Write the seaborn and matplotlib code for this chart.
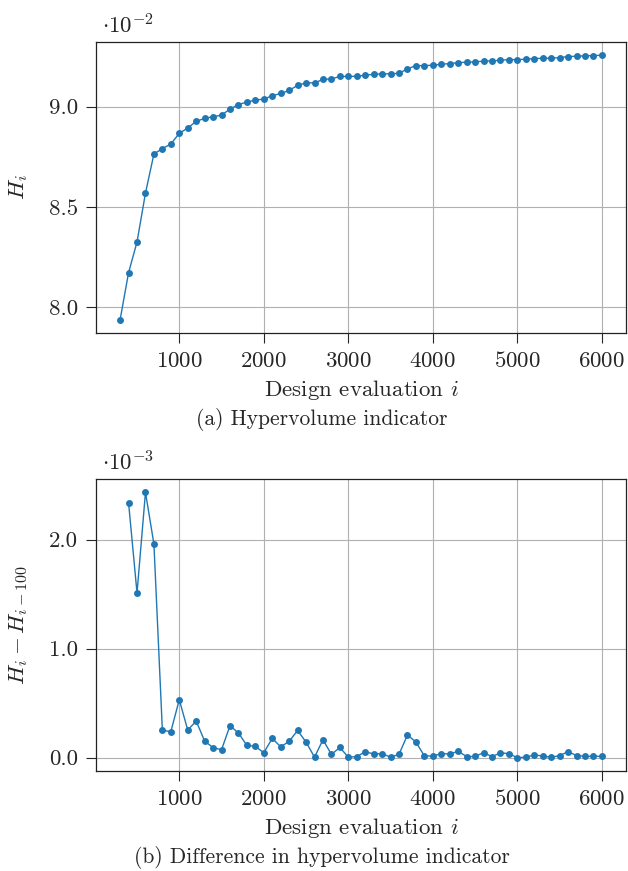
import numpy as np
import pandas as pd
import matplotlib
matplotlib.use("Agg")
import matplotlib.pyplot as plt
import seaborn as sns
from matplotlib.ticker import FormatStrFormatter, MultipleLocator

# ---- data ----
eval_top = list(range(300, 6001, 100))
hv_top = [7.937, 8.172, 8.325, 8.569, 8.764, 8.791, 8.814, 8.867, 8.894, 8.927,
          8.942, 8.950, 8.958, 8.988, 9.011, 9.023, 9.033, 9.038, 9.055, 9.066,
          9.081, 9.107, 9.119, 9.119, 9.136, 9.139, 9.151, 9.151, 9.152, 9.157,
          9.162, 9.164, 9.164, 9.167, 9.189, 9.205, 9.205, 9.207, 9.212, 9.215,
          9.220, 9.222, 9.224, 9.227, 9.229, 9.232, 9.235, 9.235, 9.237, 9.240,
          9.242, 9.242, 9.245, 9.250, 9.252, 9.254, 9.255, 9.257]  # x 1e-2

eval_bot = list(range(400, 6001, 100))
hv_diff = [2.339, 1.511, 2.434, 1.960, 0.251, 0.239, 0.532, 0.254, 0.336, 0.153,
           0.092, 0.073, 0.294, 0.226, 0.113, 0.104, 0.046, 0.177, 0.100, 0.150,
           0.250, 0.143, 0.005, 0.165, 0.030, 0.094, 0.005, 0.010, 0.055, 0.034,
           0.037, 0.005, 0.031, 0.210, 0.143, 0.016, 0.016, 0.037, 0.034, 0.059,
           0.010, 0.012, 0.046, 0.010, 0.045, 0.037, 0.000, 0.005, 0.025, 0.016,
           0.003, 0.020, 0.055, 0.020, 0.013, 0.013, 0.013]  # x 1e-3

x_ticks = [1000, 2000, 3000, 4000, 5000, 6000]

df_top = pd.DataFrame({"i": eval_top, "H": hv_top})
df_bot = pd.DataFrame({"i": eval_bot, "dH": hv_diff})

# ---- style ----
sns.set_style("ticks")
plt.rcParams.update({
    "font.family": "serif",
    "font.serif": ["cmr10", "DejaVu Serif"],
    "mathtext.fontset": "cm",
    "axes.formatter.use_mathtext": True,
    "font.size": 16.5,
    "axes.unicode_minus": True,
})

FS = 16.5
COLOR = "#1f77b4"
fig = plt.figure(figsize=(6.28, 8.71), dpi=100)
ax1 = fig.add_axes([0.1529, 0.6177, 0.8439, 0.3341])
ax2 = fig.add_axes([0.1529, 0.1148, 0.8439, 0.3352])

sns.lineplot(data=df_top, x="i", y="H", ax=ax1, color=COLOR, marker="o",
             markersize=5, markeredgewidth=0, linewidth=1.0)
sns.lineplot(data=df_bot, x="i", y="dH", ax=ax2, color=COLOR, marker="o",
             markersize=5, markeredgewidth=0, linewidth=1.0)

for ax in (ax1, ax2):
    ax.set_xlim(15, 6285)
    ax.set_xticks(x_ticks)
    ax.grid(True, color="#b0b0b0", linewidth=0.8)
    ax.set_axisbelow(True)
    ax.tick_params(direction="out", length=7.2, width=0.8, labelsize=FS, pad=6)
    for s in ax.spines.values():
        s.set_color("#222222")
        s.set_linewidth(0.9)
    ax.yaxis.set_major_formatter(FormatStrFormatter("%.1f"))
    ax.set_xlabel(r"Design evaluation $i$", fontsize=FS)

ax1.set_ylim(7.871, 9.323)
ax1.yaxis.set_major_locator(MultipleLocator(0.5))
ax2.set_ylim(-0.122, 2.556)
ax2.yaxis.set_major_locator(MultipleLocator(1.0))

ax1.set_ylabel(r"$H_i$", fontsize=FS)
ax2.set_ylabel(r"$H_i - H_{i-100}$", fontsize=FS)
ax1.yaxis.set_label_coords(-0.125, 0.5)
ax2.yaxis.set_label_coords(-0.125, 0.5)
ax1.xaxis.set_label_coords(0.5, -0.155)
ax2.xaxis.set_label_coords(0.5, -0.155)

ax1.text(0.012, 1.015, r"$\cdot 10^{-2}$", transform=ax1.transAxes,
         ha="left", va="bottom", fontsize=FS)
ax2.text(0.012, 1.015, r"$\cdot 10^{-3}$", transform=ax2.transAxes,
         ha="left", va="bottom", fontsize=FS)

fig.text(0.513, 0.518, "(a) Hypervolume indicator", ha="center", va="center", fontsize=15.5)
fig.text(0.513, 0.015, "(b) Difference in hypervolume indicator", ha="center",
         va="center", fontsize=15.5)

fig.savefig("out.png", dpi=100)
